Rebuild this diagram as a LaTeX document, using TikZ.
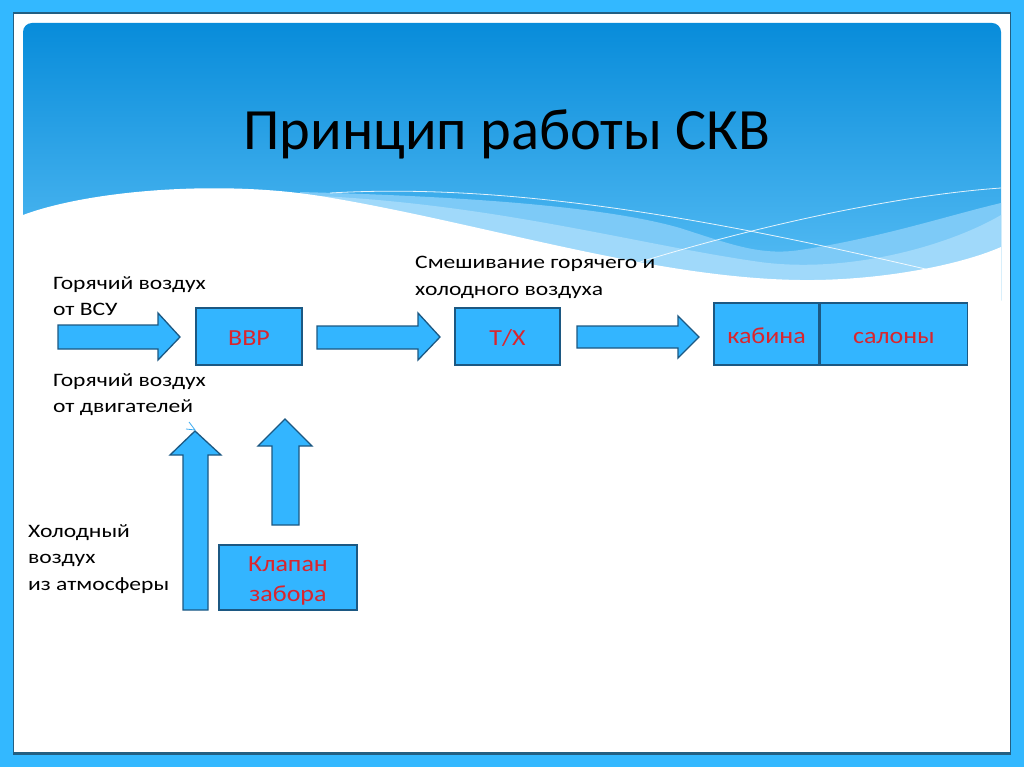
\documentclass[tikz,border=0pt]{standalone}
\usepackage{fontspec}
\setmainfont{Carlito}
\newfontfamily\bodyf[FakeStretch=1.24]{Carlito}
\newfontfamily\redf[FakeStretch=1.13]{Carlito}
\definecolor{bg}{RGB}{51,184,255}
\definecolor{edgec}{RGB}{35,95,130}
\definecolor{hdtop}{RGB}{8,140,218}
\definecolor{hdbot}{RGB}{92,192,246}
\definecolor{bandA}{RGB}{125,202,247}
\definecolor{bandB}{RGB}{160,217,250}
\definecolor{boxfill}{RGB}{51,181,255}
\definecolor{boxline}{RGB}{28,88,130}
\definecolor{redtxt}{RGB}{218,37,45}
\definecolor{chev}{RGB}{60,170,240}
\tikzset{
  blk/.style={draw=boxline, fill=boxfill, line width=1.3pt, inner sep=0pt},
  blkarrow/.style={draw=boxline, fill=boxfill, line width=1.3pt, line join=miter},
  redlbl/.style={text=redtxt, font=\redf\fontsize{23}{30}\selectfont, align=center},
  onel/.style={text height=19pt, text depth=1pt},
  txt/.style={anchor=base west, inner sep=0pt, font=\bodyf\fontsize{19}{26}\selectfont},
}
\begin{document}
\begin{tikzpicture}[x=1pt,y=-1pt]
\useasboundingbox (0,0) rectangle (1024,767);
% frame
\fill[bg] (0,0) rectangle (1024,767);
\fill[edgec] (12.5,12.5) rectangle (1011,755);
\fill[white] (14,14) rectangle (1010,752);
% header
\begin{scope}
  \clip[rounded corners=9] (23,320) -- (23,23) -- (1001,23) -- (1001,320) -- cycle;
  \shade[top color=hdtop, bottom color=hdbot] (23,23) rectangle (1001,300);
  % band A
  \fill[bandA] (300,192) .. controls (450,196) and (600,205) .. (680,228)
     .. controls (730,244) and (760,256) .. (800,250)
     .. controls (880,238) and (950,215) .. (1001,203) -- (1001,300) -- (300,300) -- cycle;
  % band B
  \fill[bandB] (320,196) .. controls (500,205) and (640,245) .. (760,262)
     .. controls (850,274) and (950,245) .. (1001,215) -- (1001,300) -- (320,300) -- cycle;
  % white wave
  \fill[white] (23,215) .. controls (90,190) and (220,180) .. (320,196)
     .. controls (480,222) and (650,278) .. (800,280)
     .. controls (880,281) and (960,265) .. (1001,247) -- (1001,320) -- (23,320) -- cycle;
  % thin white lines
  \draw[white, line width=0.8pt, opacity=0.85] (330,193) .. controls (550,180) and (800,240) .. (960,277);
  \draw[white, line width=0.8pt, opacity=0.85] (640,262) .. controls (760,225) and (900,195) .. (1001,188);
\end{scope}
% title
\node[anchor=base, inner sep=0pt, font=\fontsize{58.5}{60}\selectfont] (title) at (507,150) {Принцип работы СКВ};
% texts
\node[txt] (hv1) at (53,289) {Горячий воздух};
\node[txt] (hv2) at (53,315) {от ВСУ};
\node[txt] (he1) at (53,386) {Горячий воздух};
\node[txt] (he2) at (53,412) {от двигателей};
\node[txt] (mx1) at (415,268) {Смешивание горячего и};
\node[txt] (mx2) at (415,295) {холодного воздуха};
\node[txt] (ca1) at (28,537) {Холодный};
\node[txt] (ca2) at (28,563) {воздух};
\node[txt] (ca3) at (28,590) {из атмосферы};
% boxes
\node[blk, minimum width=106pt, minimum height=57pt, redlbl, onel] (vvr) at (249,336.5) {ВВР};
\node[blk, minimum width=105pt, minimum height=57pt, redlbl, onel] (tx) at (507.5,336.5) {Т/Х};
\node[blk, minimum width=105pt, minimum height=62pt, redlbl, onel] (cab) at (766.5,334) {кабина};
\node[blk, minimum width=147pt, minimum height=62pt, redlbl, onel, anchor=west] (sal) at (cab.east) {салоны};
\node[blk, minimum width=138pt, minimum height=65pt] (klap) at (288,577.5) {};
\node[redlbl, inner sep=0pt] (klapt) at (288,580.5) {Клапан\\забора};
% right block arrows
\filldraw[blkarrow] (58,325) -- (158,325) -- (158,313) -- (180,337) -- (158,360) -- (158,349) -- (58,349) -- cycle;
\filldraw[blkarrow] (317,326) -- (418,326) -- (418,313) -- (440,337) -- (418,360) -- (418,349) -- (317,349) -- cycle;
\filldraw[blkarrow] (577,326) -- (678,326) -- (678,316) -- (699,337) -- (678,358) -- (678,348) -- (577,348) -- cycle;
% up block arrows
\filldraw[blkarrow] (183,610) -- (183,455) -- (170,455) -- (195,431) -- (221,455) -- (208,455) -- (208,610) -- cycle;
\filldraw[blkarrow] (272,525) -- (272,446) -- (258,446) -- (285,419) -- (312,446) -- (299,446) -- (299,525) -- cycle;
% small chevron
\draw[chev, line width=0.8pt] (189,422) -- (195,430) -- (186,429);
\end{tikzpicture}
\end{document}
